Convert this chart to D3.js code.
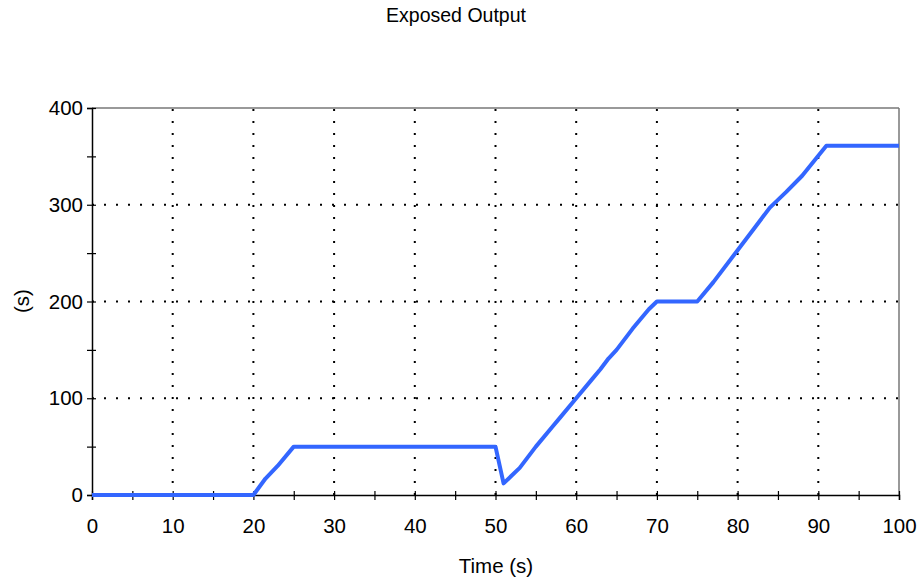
<!DOCTYPE html>
<html><head><meta charset="utf-8">
<script src="https://cdn.jsdelivr.net/npm/d3@7"></script>
<style>body{margin:0;background:#fff;}text{font-family:"Liberation Sans",Arial,sans-serif;fill:#000;}</style>
</head><body><svg id="c" width="924" height="583"></svg>
<script>
const timeVals = [0,20,21.5,23,25,50,51,53,55,57,58,60,62,63,64,65,67,69,70,75,77,80,82,84,86,88,91,100];
const outVals  = [0,0,17,30,50,50,12,28,50,70,80,100,120,130,141,150,172,192,200,200,220,253,275,297,313,330,361,361];
const xTicks = [0,10,20,30,40,50,60,70,80,90,100];
const yTicks = [0,100,200,300,400];
const xMinor = d3.range(0,101,5);
const yMinor = d3.range(0,401,50);
const title = "Exposed Output", xLabel = "Time (s)", yLabel = "(s)";

const svg = d3.select("#c");
const L=92,R=899,T=108,B=495;
const x = d3.scaleLinear().domain([0,100]).range([L,R]);
const y = d3.scaleLinear().domain([0,400]).range([B,T]);
const FS = 20.5;

// grid
const g = svg.append("g");
g.selectAll(".gx").data(xTicks.filter(d=>d>0&&d<100)).enter().append("line")
 .attr("x1",d=>x(d)).attr("x2",d=>x(d)).attr("y1",B).attr("y2",T)
 .attr("stroke","#000").attr("stroke-width",2).attr("stroke-dasharray","2,10");
g.selectAll(".gy").data(yTicks.filter(d=>d>0&&d<400)).enter().append("line")
 .attr("y1",d=>y(d)).attr("y2",d=>y(d)).attr("x1",L).attr("x2",R)
 .attr("stroke","#000").attr("stroke-width",2).attr("stroke-dasharray","2,10");

// border top/right
svg.append("line").attr("x1",L).attr("x2",R).attr("y1",T).attr("y2",T).attr("stroke","#777").attr("stroke-width",1.5);
svg.append("line").attr("x1",R).attr("x2",R).attr("y1",T).attr("y2",B).attr("stroke","#777").attr("stroke-width",1.5);

// axes
const xa = svg.append("g").attr("transform",`translate(0,${B})`)
 .call(d3.axisBottom(x).tickValues(xMinor).tickSize(5).tickFormat(""));
xa.selectAll(".tick line").attr("y1",-4).attr("stroke","#000").attr("stroke-width",1.2);
xa.select(".domain").attr("stroke","#000").attr("stroke-width",1.5);
const xl = svg.append("g").attr("transform",`translate(0,${B})`)
 .call(d3.axisBottom(x).tickValues(xTicks).tickSize(0).tickPadding(0).tickFormat(d3.format("d")));
xl.select(".domain").remove();
xl.selectAll("text").attr("dy",null).attr("y",38).attr("font-size",FS).attr("font-family","Liberation Sans, Arial").attr("fill","#000");

const ya = svg.append("g").attr("transform",`translate(${L},0)`)
 .call(d3.axisLeft(y).tickValues(yMinor).tickSize(5).tickFormat(""));
ya.selectAll(".tick line").attr("x1",4).attr("stroke","#000").attr("stroke-width",1.2);
ya.select(".domain").attr("stroke","#000").attr("stroke-width",1.5);
const yl = svg.append("g").attr("transform",`translate(${L},0)`)
 .call(d3.axisLeft(y).tickValues(yTicks).tickSize(0).tickPadding(9));
yl.select(".domain").remove();
yl.selectAll("text").attr("font-size",FS).attr("font-family","Liberation Sans, Arial").attr("fill","#000");

// line
const line = d3.line().x((d,i)=>x(timeVals[i])).y((d,i)=>y(outVals[i]));
svg.append("path").datum(outVals).attr("d",line).attr("fill","none")
 .attr("stroke","#3366ff").attr("stroke-width",4).attr("stroke-linejoin","round");

// labels
svg.append("text").attr("x",456).attr("y",22).attr("text-anchor","middle").attr("font-size",19.5).text(title);
svg.append("text").attr("x",496).attr("y",573).attr("text-anchor","middle").attr("font-size",FS).text(xLabel);
svg.append("text").attr("transform","translate(29,301) rotate(-90)").attr("text-anchor","middle").attr("font-size",FS).text(yLabel);
</script></body></html>
